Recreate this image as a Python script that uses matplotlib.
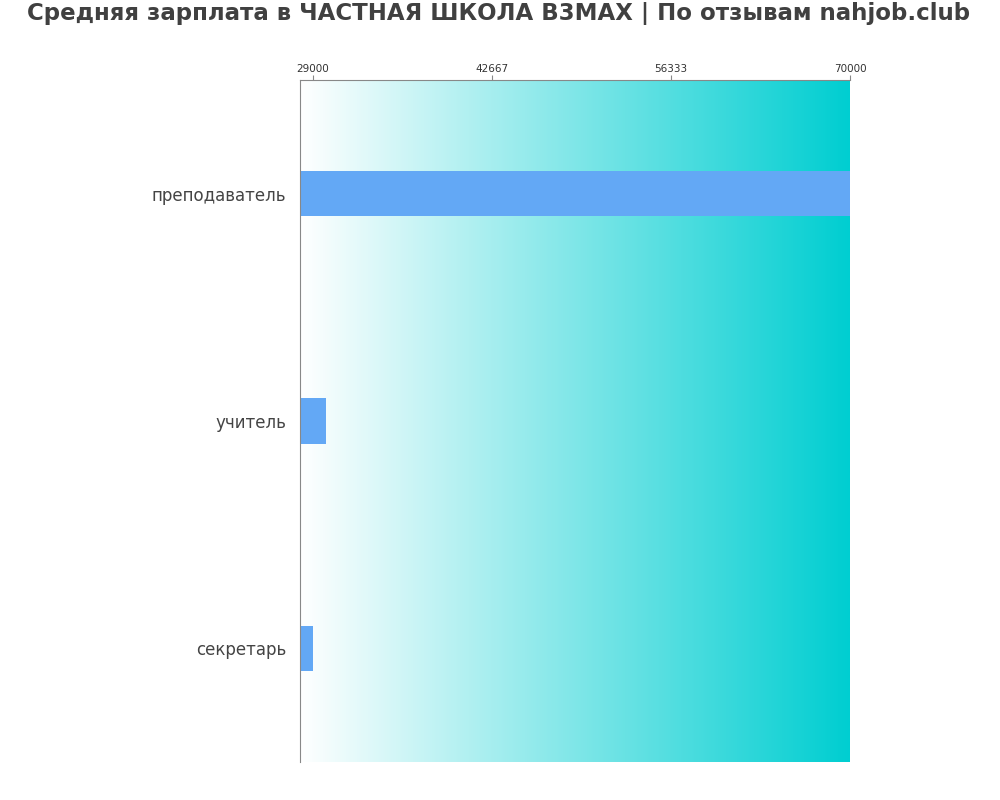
import numpy as np
import matplotlib
matplotlib.use("Agg")
import matplotlib.pyplot as plt
from matplotlib.colors import LinearSegmentedColormap

plt.rcParams["font.family"] = ["DejaVu Sans"]

# Данные
professions = ["преподаватель", "учитель", "секретарь"]
salaries = [70000, 30000, 29000]
tick_values = [29000, 42667, 56333, 70000]
x_min, x_max = 28000, 70000

fig = plt.figure(figsize=(10, 8), dpi=100)
ax = fig.add_axes([0.30, 0.0475, 0.55, 0.8525])

# Градиентный фон
cmap = LinearSegmentedColormap.from_list("bg", ["#ffffff", "#00ced1"])
grad = np.linspace(0, 1, 256).reshape(1, -1)
ax.imshow(grad, cmap=cmap, aspect="auto", extent=[x_min, x_max, -0.5, 2.5], zorder=0)

y = np.arange(len(professions))
ax.barh(y, [s - x_min for s in salaries], left=x_min, height=0.2, color="#63a8f5", zorder=2)

ax.set_xlim(x_min, x_max)
ax.set_ylim(2.5, -0.5)
ax.set_yticks(y)
ax.set_yticklabels(professions, fontsize=12, color="#444444")
ax.tick_params(axis="y", length=0, pad=10)
ax.xaxis.tick_top()
ax.set_xticks(tick_values)
ax.set_xticklabels([str(t) for t in tick_values], fontsize=7.5, color="#333333")
ax.tick_params(axis="x", color="#888888", pad=1)

for side in ["right", "bottom"]:
    ax.spines[side].set_visible(False)
for side in ["left", "top"]:
    ax.spines[side].set_color("#888888")

fig.text(0.499, 0.997, "Средняя зарплата в ЧАСТНАЯ ШКОЛА B3MAX | По отзывам nahjob.club",
         ha="center", va="top", fontsize=16.5, fontweight="bold", color="#404040")

fig.savefig("out.png", dpi=100)
